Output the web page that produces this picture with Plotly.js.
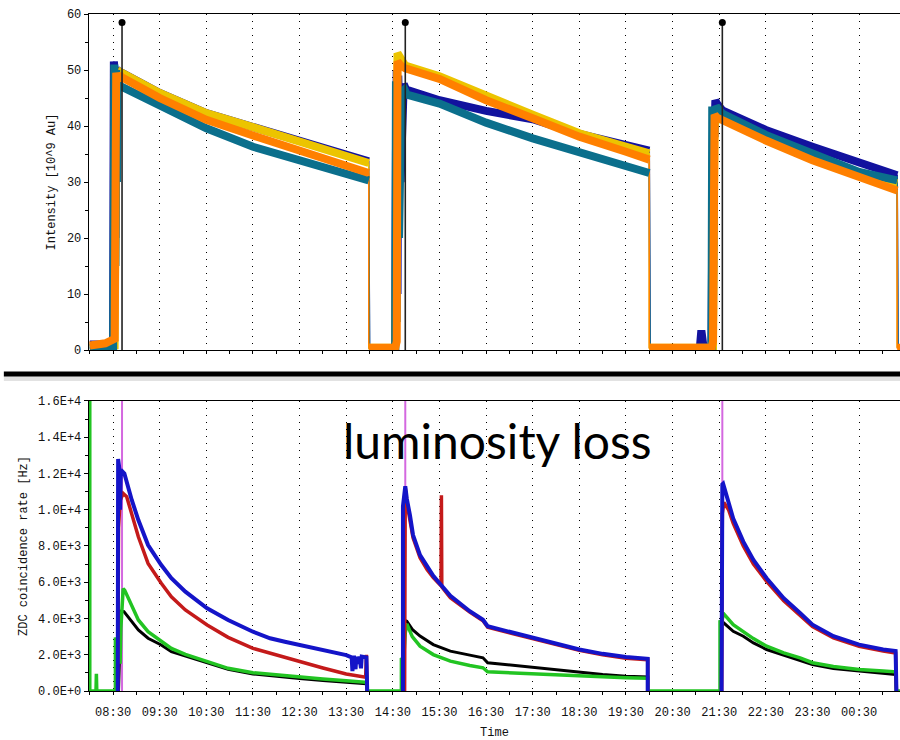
<!DOCTYPE html>
<html>
<head>
<meta charset="utf-8">
<script src="https://cdn.plot.ly/plotly-3.0.1.min.js"></script>
<style>
  html, body { margin: 0; padding: 0; background: #fff; }
  #chart { width: 900px; height: 740px; }
</style>
</head>
<body>
<div id="chart"></div>
<script>
// Beam intensity (top) and ZDC coincidence rate (bottom) over three fills.
const DAY0 = '2011-11-20';
const DAY1 = '2011-11-21';

// ---- Top panel: bunch intensities [10^9 Au] ----
const topBlueT = ['08:00','08:10','08:11','08:30','08:30:30','08:31','08:32','08:33','08:34','08:36','08:40','09:30','10:30','11:30','12:30','13:30','13:59',null,
  '14:00','14:33','14:34','14:35','14:36','14:37','14:40','14:44','14:47','15:30','16:30','17:30','18:30','19:30','20:00',null,
  '20:01','21:05','21:07','21:08','21:09','21:10','21:20','21:21','21:22','21:23','21:24','21:25','21:27','21:34','22:30','23:30','00:30','01:19',null,'01:20'];
const topBlueV = [1.0,1.0,0.3,0.3,30,51.5,50,20,50.5,48.5,49.6,45.9,42.3,39.9,37.4,35.1,33.7,null,
  0.3,0.3,35,50,10,49,30,47.5,46.5,44.6,42.7,41.2,38.6,36.6,35.6,null,
  0.3,0.3,3.5,0.8,2.8,0.3,0.3,20,40,10,38,44.6,44.0,42.8,39.3,36.3,33.4,31.2,null,0.3];

const topYellowT = ['08:00','08:32','08:34','08:35','08:38','08:40','09:30','10:30','11:30','12:30','13:30','13:59',null,
  '13:59','14:33','14:36','14:40','14:46','15:30','16:30','17:30','18:30','19:30','20:00',null,
  '20:00','21:22','21:24','21:27','21:34','22:30','23:30','00:30','01:19',null,'01:19'];
const topYellowV = [0.5,0.8,40,49,49.0,49.6,45.9,42.3,39.8,37.2,34.8,33.4,null,
  0.4,0.4,53,52,50.8,48.9,45.3,42.0,38.7,36.3,35.1,null,
  0.4,0.4,40,41.8,41.6,38.0,34.6,31.5,29.8,null,0.4];

const topTealT = ['08:00','08:30','08:31','08:31:30','08:32','08:33','08:34','08:35','08:36','08:37','08:38','09:30','10:30','11:30','12:30','13:30','13:59',null,
  '14:00','14:33','14:34','14:35','14:36','14:38','14:41','14:45','14:48','15:30','16:30','17:30','18:30','19:30','20:00',null,
  '20:01','21:20','21:21','21:22','21:23','21:26','21:34','22:30','23:30','00:30','01:19',null,'01:20'];
const topTealV = [0.3,0.3,25,51,45,15,50,30,49,47.5,47.2,43.7,39.6,36.3,33.8,31.3,30.3,null,
  0.3,0.3,48,5,45,20,46,46.5,45.6,44.0,40.6,37.8,35.2,32.7,31.6,null,
  0.3,0.3,43.5,5,40,43.5,42.2,38.4,35.0,31.8,30.3,null,0.3];

const topOrangeT = ['08:00','08:20','08:32','08:33','08:34','08:36','08:38','08:40','09:30','10:30','11:30','12:30','13:30','13:59',null,
  '13:59','14:33','14:35','14:36','14:40','14:46','15:30','16:30','17:30','18:30','19:30','20:00',null,
  '20:00','21:20','21:22','21:24','21:27','21:34','22:30','23:30','00:30','01:19',null,'01:19','01:23'];
const topOrangeV = [0.8,1.2,2.0,30,49.5,48,49.3,48.8,45.0,41.1,38.3,35.6,33.0,31.6,null,
  0.4,0.4,1.5,51.5,50.8,50.3,48.4,44.6,41.4,38.1,35.4,34.0,null,
  0.4,0.4,1.5,42,41.5,41.0,37.4,33.9,30.9,28.5,null,0.4,0.4];

// Fill start markers (same times in both panels)
const fillStartT = ['08:41:30','14:46','21:34'];
const fillMarkerTop = 58.5;

// Top axis ticks
const topTickVals = [0,10,20,30,40,50,60];

// ---- Bottom panel: ZDC coincidence rate [Hz] ----
const botGreenT = ['08:00','08:00','08:08','08:08:30','08:09','08:33','08:33','08:35','08:36','08:38','08:39','08:40','08:43','08:45','08:54','09:02:30','09:15','09:32','09:45','10:03','10:31','10:58','11:30','12:11','12:30','13:00','13:30','13:56','13:57',
  '14:41','14:41','14:44','14:46','14:48','14:55','15:05','15:22','15:44','16:09','16:26','16:32','17:05','17:30','18:01','18:30','19:00','19:30','19:58','19:58',
  '21:31','21:31','21:33','21:35','21:48','22:01','22:14','22:31','22:53','23:14','23:30','23:57','00:30','01:01','01:17','01:18','01:23'];
const botGreenV = [16500,0,0,950,0,0,2950,2600,3000,2700,1500,3500,5650,5550,4650,3920,3270,2720,2350,2020,1620,1250,1010,830,770,660,560,480,0,
  0,1750,1800,3200,3700,3000,2470,2010,1650,1410,1280,1060,990,950,900,820,770,730,700,0,
  0,3900,3600,4300,3660,3290,2890,2470,2100,1830,1560,1350,1190,1100,1060,0,0];

const botBlackT = ['08:37','08:38','08:40','08:44','08:54','09:02:30','09:15','09:32','09:45','10:03','10:31','10:58','11:30','12:11','12:30','13:00','13:30','13:56','13:57',null,
  '14:43','14:43','14:45','14:48','14:55','15:05','15:22','15:44','16:09','16:26','16:32','17:05','17:30','18:01','18:30','19:00','19:30','19:58','19:58',null,
  '21:33','21:33','21:36','21:48','22:01','22:14','22:31','22:53','23:14','23:30','23:57','00:30','01:01','01:17','01:18'];
const botBlackV = [0,1300,4400,4380,3830,3370,2910,2540,2170,1930,1560,1200,940,750,690,580,470,400,0,null,
  0,1700,3900,3850,3400,3030,2560,2200,1980,1830,1560,1420,1280,1150,1040,915,820,770,0,null,
  0,3700,3750,3290,3020,2650,2290,1980,1700,1460,1240,1100,970,915,0];

const botRedT = ['08:36','08:37','08:39','08:43','08:47:30','08:54','09:02:30','09:15','09:32','09:45','10:03','10:31','10:58','11:30','12:11','12:30','13:00','13:30','13:55','13:56','13:56:30','13:57',null,
  '14:45','14:45','14:46','14:48','14:52','14:56','15:05','15:14','15:22','15:32','15:32:30','15:33','15:44','16:09','16:26','16:32','17:05','17:30','18:01','18:30','19:00','19:30','19:58','19:58',null,
  '21:33','21:33','21:34','21:36','21:42','21:48','22:01','22:14','22:31','22:53','23:14','23:30','23:57','00:30','01:01','01:17','01:18'];
const botRedV = [0,9000,10500,10900,10720,9710,8510,7040,5940,5200,4470,3640,2960,2350,1840,1600,1270,940,760,2000,700,0,null,
  0,5500,11200,10400,9500,8450,7350,6700,6250,5800,10800,5750,5150,4350,3880,3520,3150,2880,2550,2240,2000,1810,1720,0,null,
  0,1800,9800,10400,10000,9250,8000,7000,6050,4980,4180,3560,2930,2470,2200,2100,0];

const botBlueT = ['08:36','08:36:30','08:38','08:39','08:40','08:44:30','08:54','09:02:30','09:15','09:32','09:45','10:03','10:31','10:58','11:30','11:52','12:11','12:30','13:00','13:30','13:37','13:38','13:40','13:42','13:43','13:45','13:47','13:49','13:50','13:56','13:57',null,
  '14:43','14:43','14:46','14:48','14:52','14:56','15:05','15:14','15:22','15:31','15:44','16:09','16:26','16:32','17:05','17:30','18:01','18:30','19:00','19:30','19:58','19:58',null,
  '21:33','21:33','21:34','21:35','21:42','21:48','22:01','22:14','22:31','22:53','23:14','23:30','23:57','00:30','01:01','01:17','01:18'];
const botBlueV = [0,12800,12300,10000,12200,12000,10540,9430,8050,6950,6220,5480,4560,3920,3270,2910,2720,2550,2250,1980,1850,1100,1950,1200,1900,1500,1900,1250,1900,1850,0,null,
  0,10200,11300,10600,9700,8600,7500,6850,6350,5900,5250,4400,3930,3570,3200,2930,2600,2290,2050,1870,1780,0,null,
  0,7000,11400,11440,10430,9520,8240,7230,6220,5120,4300,3660,3020,2560,2290,2200,0];

// Bottom axis ticks
const botTickVals = [0,2000,4000,6000,8000,10000,12000,14000,16000];
const botTickText = ['0.0E+0','2.0E+3','4.0E+3','6.0E+3','8.0E+3','1.0E+4','1.2E+4','1.4E+4','1.6E+4'];

// ---- helpers ----
// times before 05:00 belong to the following day
function ts(hm) {
  if (hm === null) return null;
  const h = parseInt(hm.slice(0, 2), 10);
  return (h < 5 ? DAY1 : DAY0) + ' ' + (hm.length === 5 ? hm + ':00' : hm);
}
const X = arr => arr.map(ts);

const MONO = 'Liberation Mono, DejaVu Sans Mono, monospace';
const HOUR = 3600000;

function band(t, v, color, w) {
  return { type: 'scatter', mode: 'lines', x: X(t), y: v, xaxis: 'x2', yaxis: 'y',
    line: { color: color, width: w }, connectgaps: false, hoverinfo: 'skip' };
}
function thin(t, v, color) {
  return { type: 'scatter', mode: 'lines', x: X(t), y: v, xaxis: 'x2', yaxis: 'y',
    line: { color: color, width: 1.5 }, connectgaps: true, hoverinfo: 'skip' };
}
function rate(t, v, color, w) {
  return { type: 'scatter', mode: 'lines', x: X(t), y: v, xaxis: 'x', yaxis: 'y2',
    line: { color: color, width: w }, connectgaps: false, hoverinfo: 'skip' };
}

const C = { blue: '#12129e', yellow: '#ecc400', teal: '#0b6f8c', orange: '#ff8000',
  rBlue: '#1414c8', rRed: '#c41a1a', rGreen: '#22c422', rBlack: '#000000', magenta: '#d468e0' };

// fill start lines
const startX = [], startYTop = [], startYBot = [];
fillStartT.forEach(t => {
  startX.push(ts(t), ts(t), null);
  startYTop.push(0, fillMarkerTop, null);
  startYBot.push(0, 16000, null);
});

const traces = [
  thin(topBlueT, topBlueV, C.blue),
  thin(topYellowT, topYellowV, C.yellow),
  thin(topTealT, topTealV, C.teal),
  thin(topOrangeT, topOrangeV, C.orange),
  band(topBlueT, topBlueV, C.blue, 8),
  band(topYellowT, topYellowV, C.yellow, 8),
  band(topTealT, topTealV, C.teal, 8),
  band(topOrangeT, topOrangeV, C.orange, 8),
  { type: 'scatter', mode: 'lines', x: startX, y: startYTop, xaxis: 'x2', yaxis: 'y',
    line: { color: '#222', width: 1.6 }, hoverinfo: 'skip' },
  { type: 'scatter', mode: 'markers', x: X(fillStartT), y: fillStartT.map(() => fillMarkerTop),
    xaxis: 'x2', yaxis: 'y', marker: { color: '#000', size: 7 }, cliponaxis: false, hoverinfo: 'skip' },

  { type: 'scatter', mode: 'lines', x: startX, y: startYBot, xaxis: 'x', yaxis: 'y2',
    line: { color: C.magenta, width: 2 }, hoverinfo: 'skip' },
  rate(botBlackT, botBlackV, C.rBlack, 3),
  rate(botGreenT, botGreenV, C.rGreen, 3.5),
  rate(botRedT, botRedV, C.rRed, 3.5),
  rate(botBlueT, botBlueV, C.rBlue, 4)
];

const tickFont = { family: MONO, size: 12, color: '#111' };
const xRange = [DAY0 + ' 07:59:00', DAY1 + ' 01:22:38'];

const xCommon = {
  type: 'date', range: xRange, tick0: ts('08:30'), dtick: HOUR, tickformat: '%H:%M',
  ticks: 'outside', ticklen: 3, tickwidth: 1, tickcolor: '#000',
  showline: true, linecolor: '#000', linewidth: 1.3, mirror: true,
  showgrid: true, gridcolor: '#000', gridwidth: 1, griddash: '1px,6px',
  minor: { dtick: HOUR / 2, tick0: ts('08:30'), ticks: 'outside', ticklen: 3, tickcolor: '#000', showgrid: false },
  zeroline: false, fixedrange: true, layer: 'below traces', tickfont: tickFont
};
const xInner = {
  type: 'date', range: xRange, tick0: ts('08:30'), dtick: HOUR / 2,
  ticks: 'inside', ticklen: 3, tickcolor: '#000', showticklabels: false,
  showline: false, showgrid: false, zeroline: false, fixedrange: true
};

const layout = {
  width: 900, height: 740,
  margin: { l: 89, r: 0, t: 14, b: 49 },
  paper_bgcolor: '#fff', plot_bgcolor: '#fff',
  showlegend: false,
  xaxis: Object.assign({}, xCommon, {
    anchor: 'y2', domain: [0, 1], ticklabelstandoff: 6,
    title: { text: 'Time', font: { family: MONO, size: 12, color: '#111' }, standoff: 10 }
  }),
  xaxis2: Object.assign({}, xCommon, { anchor: 'y', domain: [0, 1], matches: 'x', showticklabels: false }),
  xaxis3: Object.assign({}, xInner, { anchor: 'y2', overlaying: 'x', matches: 'x' }),
  xaxis4: Object.assign({}, xInner, { anchor: 'y', overlaying: 'x2', matches: 'x' }),
  yaxis: {
    anchor: 'x2', domain: [0.5037, 1], range: [0, 60], tickvals: topTickVals,
    ticks: 'outside', ticklen: 4, tickcolor: '#000',
    minor: { dtick: 5, ticks: 'outside', ticklen: 3, tickcolor: '#000' },
    showline: true, linecolor: '#000', linewidth: 1.3, showgrid: false, zeroline: false,
    fixedrange: true, tickfont: tickFont, layer: 'below traces',
    title: { text: 'Intensity [10^9 Au]', font: { family: MONO, size: 12, color: '#111' }, standoff: 8 }
  },
  yaxis3: {
    anchor: 'x2', overlaying: 'y', range: [0, 60], dtick: 5, ticks: 'inside', ticklen: 3,
    tickcolor: '#000', showticklabels: false, showline: false, showgrid: false, zeroline: false, fixedrange: true
  },
  yaxis2: {
    anchor: 'x', domain: [0, 0.4284], range: [0, 16000], tickvals: botTickVals, ticktext: botTickText,
    ticks: 'outside', ticklen: 4, tickcolor: '#000',
    minor: { dtick: 1000, ticks: 'outside', ticklen: 3, tickcolor: '#000' },
    showline: true, linecolor: '#000', linewidth: 1.3, showgrid: false, zeroline: false,
    fixedrange: true, tickfont: tickFont, layer: 'below traces',
    title: { text: 'ZDC coincidence rate [Hz]', font: { family: MONO, size: 12, color: '#111' }, standoff: 8 }
  },
  yaxis4: {
    anchor: 'x', overlaying: 'y2', range: [0, 16000], dtick: 1000, ticks: 'inside', ticklen: 3,
    tickcolor: '#000', showticklabels: false, showline: false, showgrid: false, zeroline: false, fixedrange: true
  },
  shapes: [
    // separator between the two panels
    { type: 'rect', xref: 'paper', yref: 'paper', x0: -0.105, x1: 1.0, y0: 0.4580, y1: 0.4650,
      fillcolor: '#e2e2e2', line: { width: 0 } },
    { type: 'line', xref: 'paper', yref: 'paper', x0: -0.105, x1: 1.0, y0: 0.4682, y1: 0.4682,
      line: { color: '#000', width: 5 } }
  ],
  annotations: [
    { text: 'luminosity loss', xref: 'paper', yref: 'paper', x: 0.5037, y: 0.370,
      xanchor: 'center', yanchor: 'middle', showarrow: false,
      font: { family: 'Lato, Open Sans, sans-serif', size: 48, color: '#000' } }
  ]
};

Plotly.newPlot('chart', traces, layout, { staticPlot: true, displayModeBar: false });
</script>
</body>
</html>
